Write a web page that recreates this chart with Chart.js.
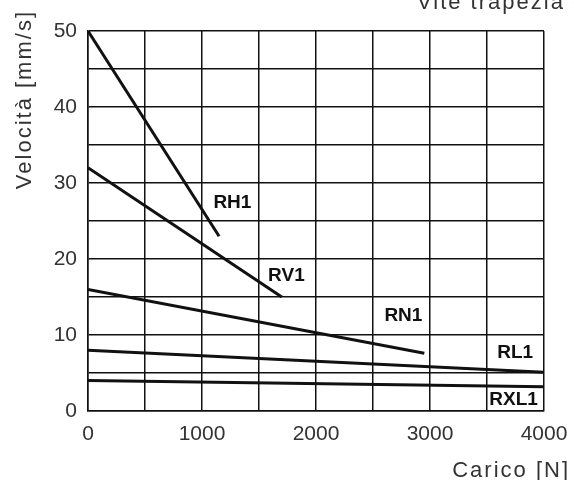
<!DOCTYPE html>
<html>
<head>
<meta charset="utf-8">
<script src="https://cdn.jsdelivr.net/npm/chart.js@4.4.0/dist/chart.umd.min.js"></script>
<style>
  html, body { margin: 0; padding: 0; background: #fff; }
  #grafico { display: block; }
</style>
</head>
<body>
<canvas id="grafico" width="574" height="480"></canvas>
<script>
const serie = ['RH1', 'RV1', 'RN1', 'RL1', 'RXL1'];
const caricoRH1 = [0, 1150];
const velRH1 = [50, 23];
const caricoRV1 = [0, 1700];
const velRV1 = [32, 15];
const caricoRN1 = [0, 2950];
const velRN1 = [16, 7.6];
const caricoRL1 = [0, 4000];
const velRL1 = [8, 5.1];
const caricoRXL1 = [0, 4000];
const velRXL1 = [4, 3.2];

// posizione delle etichette (in unità del grafico)
const etichettaX = [1100, 1580, 2600, 3590, 3520];
const etichettaY = [27.4, 17.8, 12.5, 7.6, 1.5];

const tickX = [0, 1000, 2000, 3000, 4000];
const tickY = [0, 10, 20, 30, 40, 50];

const titolo = 'Vite trapezia d';
const titoloX = 'Carico [N]';
const titoloY = 'Velocità [mm/s]';

const caricoSerie = [caricoRH1, caricoRV1, caricoRN1, caricoRL1, caricoRXL1];
const velSerie = [velRH1, velRV1, velRN1, velRL1, velRXL1];

const nero = '#111';
const font = '"Liberation Sans", Arial, sans-serif';

const datasets = serie.map((nome, i) => ({
  label: nome,
  data: caricoSerie[i].map((x, j) => ({ x: x, y: velSerie[i][j] })),
  borderColor: nero,
  borderWidth: 3,
  pointRadius: 0,
  fill: false,
  tension: 0
}));

const testi = {
  id: 'testi',
  afterDraw(chart) {
    const ctx = chart.ctx;
    const sx = chart.scales.x, sy = chart.scales.y;
    ctx.save();
    // etichette delle curve
    ctx.font = 'bold 19px ' + font;
    ctx.textBaseline = 'middle';
    ctx.textAlign = 'left';
    serie.forEach((nome, i) => {
      const px = sx.getPixelForValue(etichettaX[i]);
      const py = sy.getPixelForValue(etichettaY[i]);
      if (nome === 'RXL1') {
        const w = ctx.measureText(nome).width;
        ctx.fillStyle = '#fff';
        ctx.fillRect(px - 1, py - 9, w + 3, 18);
      }
      ctx.fillStyle = nero;
      ctx.fillText(nome, px, py);
    });
    // titoli
    ctx.fillStyle = '#333';
    ctx.font = '22px ' + font;
    ctx.letterSpacing = '2px';
    ctx.textAlign = 'left';
    ctx.textBaseline = 'alphabetic';
    ctx.fillText(titolo, 417, 9);
    ctx.textAlign = 'right';
    ctx.fillText(titoloX, 570, 477);
    ctx.translate(31, 10);
    ctx.rotate(-Math.PI / 2);
    ctx.textAlign = 'right';
    ctx.fillText(titoloY, 0, 0);
    ctx.restore();
  }
};

new Chart(document.getElementById('grafico').getContext('2d'), {
  type: 'line',
  data: { datasets: datasets },
  options: {
    responsive: false,
    animation: false,
    layout: { padding: { top: 31, right: 30, left: 0, bottom: 0 } },
    plugins: { legend: { display: false }, tooltip: { enabled: false } },
    scales: {
      x: {
        type: 'linear',
        min: 0,
        max: 4000,
        afterFit: s => { s.height = 69; s.paddingRight = 0; s.paddingLeft = 0; },
        afterBuildTicks: s => {
          const t = [];
          for (let v = 0; v <= 4000; v += 500) t.push({ value: v });
          s.ticks = t;
        },
        ticks: {
          autoSkip: false,
          maxRotation: 0,
          padding: 11,
          color: '#333',
          font: { family: font, size: 21 },
          callback: v => tickX.includes(v) ? String(v) : ''
        },
        grid: { color: nero, lineWidth: 1.5, drawTicks: false },
        border: { color: nero, width: 1.5 }
      },
      y: {
        min: 0,
        max: 50,
        afterFit: s => { s.width = 88; s.paddingTop = 0; s.paddingBottom = 0; },
        afterBuildTicks: s => {
          const t = [];
          for (let v = 0; v <= 50; v += 5) t.push({ value: v });
          s.ticks = t;
        },
        ticks: {
          autoSkip: false,
          padding: 11,
          color: '#333',
          font: { family: font, size: 21 },
          callback: v => tickY.includes(v) ? String(v) : ''
        },
        grid: { color: nero, lineWidth: 1.5, drawTicks: false },
        border: { color: nero, width: 1.5 }
      }
    }
  },
  plugins: [testi]
});
</script>
</body>
</html>
